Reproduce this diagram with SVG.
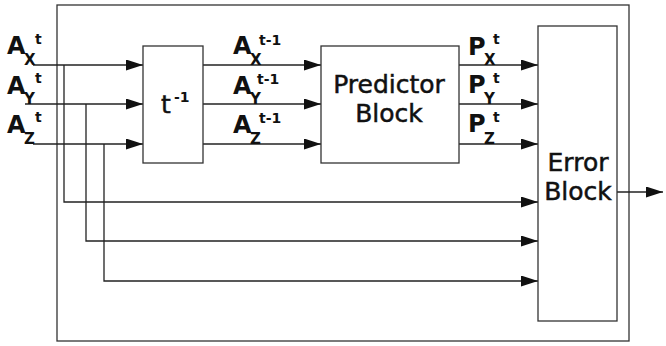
<svg xmlns="http://www.w3.org/2000/svg" width="666" height="346" viewBox="0 0 666 346">
  <style>
    .box { fill: #ffffff; stroke: #333333; stroke-width: 1.3; }
    .wire { fill: none; stroke: #222222; stroke-width: 1.3; }
    .arrow { marker-end: url(#head); }
    .lbl { font-family: "DejaVu Sans", sans-serif; font-weight: bold; fill: #111111; }
    .big { font-size: 24px; }
    .small { font-size: 15px; }
    .sup { font-size: 14px; }
    .name { font-family: "DejaVu Sans", sans-serif; font-size: 25px; fill: #111111; stroke: #111111; stroke-width: 0.5; text-anchor: middle; }
  </style>
  <defs>
    <marker id="head" markerUnits="userSpaceOnUse" markerWidth="17" markerHeight="11" refX="17" refY="5.5" orient="auto">
      <path d="M0,0 L17,5.5 L0,11 Z" fill="#111111"/>
    </marker>
  </defs>

  <rect width="666" height="346" fill="#ffffff"/>

  <!-- system boundary -->
  <rect id="system" class="box" x="57" y="5" width="572" height="336"/>

  <!-- connectors -->
  <g id="connectors">
    <!-- inputs into delay -->
    <line class="wire arrow" x1="33" y1="65" x2="143" y2="65"/>
    <line class="wire arrow" x1="25" y1="104" x2="143" y2="104"/>
    <line class="wire arrow" x1="33" y1="144" x2="143" y2="144"/>
    <!-- delayed values into predictor -->
    <line class="wire arrow" x1="203" y1="65" x2="321" y2="65"/>
    <line class="wire arrow" x1="203" y1="104" x2="321" y2="104"/>
    <line class="wire arrow" x1="203" y1="144" x2="321" y2="144"/>
    <!-- predictions into error block -->
    <line class="wire arrow" x1="459" y1="65" x2="538" y2="65"/>
    <line class="wire arrow" x1="459" y1="104" x2="538" y2="104"/>
    <line class="wire arrow" x1="459" y1="144" x2="538" y2="144"/>
    <!-- current values bypassing to error block -->
    <polyline class="wire arrow" points="64,65 64,202 538,202"/>
    <polyline class="wire arrow" points="86,104 86,241 538,241"/>
    <polyline class="wire arrow" points="104,144 104,281 538,281"/>
    <!-- output -->
    <line class="wire arrow" x1="617" y1="192" x2="663" y2="192"/>
  </g>

  <!-- input labels -->
  <g id="inputs" class="lbl">
    <text class="big" x="7" y="54">A</text>
    <text class="small" x="24" y="65">X</text>
    <text class="sup" x="35" y="44">t</text>
    <text class="big" x="7" y="94">A</text>
    <text class="small" x="24" y="104">Y</text>
    <text class="sup" x="35" y="83">t</text>
    <text class="big" x="7" y="133">A</text>
    <text class="small" x="24" y="144">Z</text>
    <text class="sup" x="35" y="122">t</text>
  </g>

  <!-- unit delay -->
  <g id="delay">
    <rect class="box" x="143" y="46" width="60" height="117"/>
    <text class="name" x="166" y="113">t</text>
    <text class="lbl" x="174" y="102" font-size="14">-1</text>
  </g>

  <!-- delayed value labels -->
  <g id="delayed" class="lbl">
    <text class="big" x="233" y="54">A</text>
    <text class="small" x="250" y="65">X</text>
    <text class="sup" x="259" y="45">t-1</text>
    <text class="big" x="233" y="94">A</text>
    <text class="small" x="250" y="104">Y</text>
    <text class="sup" x="257" y="84">t-1</text>
    <text class="big" x="233" y="133">A</text>
    <text class="small" x="250" y="144">Z</text>
    <text class="sup" x="259" y="123">t-1</text>
  </g>

  <!-- predictor -->
  <g id="predictor">
    <rect class="box" x="321" y="46" width="138" height="117"/>
    <text class="name" x="389" y="93">Predictor</text>
    <text class="name" x="389" y="122">Block</text>
  </g>

  <!-- prediction labels -->
  <g id="predictions" class="lbl">
    <text class="big" x="468" y="55">P</text>
    <text class="small" x="484" y="65">X</text>
    <text class="sup" x="493" y="44">t</text>
    <text class="big" x="468" y="93">P</text>
    <text class="small" x="484" y="104">Y</text>
    <text class="sup" x="493" y="83">t</text>
    <text class="big" x="468" y="132">P</text>
    <text class="small" x="484" y="144">Z</text>
    <text class="sup" x="493" y="122">t</text>
  </g>

  <!-- error block -->
  <g id="error">
    <rect class="box" x="538" y="26" width="79" height="295"/>
    <text class="name" x="578" y="171">Error</text>
    <text class="name" x="578" y="200">Block</text>
  </g>
</svg>
